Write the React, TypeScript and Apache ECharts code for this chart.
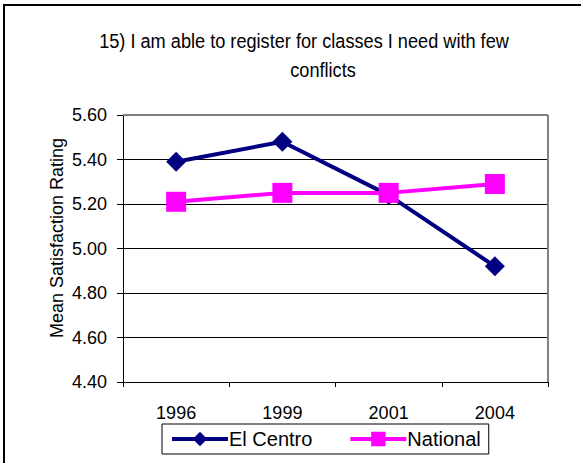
import React, { useEffect, useRef } from "react";
import * as echarts from "echarts";

const titleLine1 = "15) I am able to register for classes I need with few";
const titleLine2 = "conflicts";
const categories = ["1996", "1999", "2001", "2004"];
const elCentro = [5.39, 5.48, 5.24, 4.92];
const national = [5.21, 5.25, 5.25, 5.29];
const yAxisName = "Mean Satisfaction Rating";

const NARROW = "'Liberation Sans Narrow', 'Arial Narrow', 'Liberation Sans', Arial, sans-serif";
const REG = "'Liberation Sans', Arial, sans-serif";

export default function App() {
  const ref = useRef<HTMLDivElement>(null);
  useEffect(() => {
    document.body.style.margin = "0";
    const chart = echarts.init(ref.current!, null, { renderer: "svg" });
    chart.setOption({
      animation: false,
      backgroundColor: "#ffffff",
      graphic: [
        { type: "line", shape: { x1: 3, y1: 5, x2: 581, y2: 5 }, style: { stroke: "#000", lineWidth: 2 } },
        { type: "line", shape: { x1: 4, y1: 5, x2: 4, y2: 463 }, style: { stroke: "#000", lineWidth: 2 } },
        { type: "line", shape: { x1: 123, y1: 115, x2: 548, y2: 115 }, style: { stroke: "#808080", lineWidth: 2 }, z: 10 },
        { type: "line", shape: { x1: 548, y1: 115, x2: 548, y2: 382 }, style: { stroke: "#808080", lineWidth: 2 }, z: 10 },
        {
          type: "text",
          x: 304,
          y: 41,
          scaleX: 0.865,
          style: {
            text: titleLine1,
            fontFamily: NARROW,
            fontSize: 21,
            fill: "#000",
            textAlign: "center",
            textVerticalAlign: "middle",
          },
        },
        {
          type: "text",
          x: 323,
          y: 70,
          scaleX: 0.865,
          style: {
            text: titleLine2,
            fontFamily: NARROW,
            fontSize: 21,
            fill: "#000",
            textAlign: "center",
            textVerticalAlign: "middle",
          },
        },
        {
          type: "text",
          x: 57,
          y: 238,
          rotation: Math.PI / 2,
          style: {
            text: yAxisName,
            fontFamily: NARROW,
            fontSize: 18,
            fill: "#000",
            textAlign: "center",
            textVerticalAlign: "middle",
          },
        },
      ],
      legend: {
        left: 162,
        top: 424,
        width: 325,
        height: 32,
        padding: [5, 8, 5, 8],
        borderColor: "#000",
        borderWidth: 1,
        itemWidth: 56,
        itemHeight: 18,
        itemGap: 36,
        lineStyle: { width: 4 },
        textStyle: { fontFamily: REG, fontSize: 20, color: "#000", padding: [0, 0, 0, -4] },
        data: ["El Centro", "National"],
      },
      grid: { left: 123, right: 33, top: 115, bottom: 81, show: false },
      xAxis: {
        type: "category",
        data: categories,
        boundaryGap: true,
        axisLine: { show: true, lineStyle: { color: "#000", width: 1 } },
        axisTick: { show: true, length: 5, lineStyle: { color: "#000" } },
        axisLabel: { fontFamily: NARROW, fontSize: 18, color: "#000", margin: 22 },
      },
      yAxis: {
        type: "value",
        min: 4.4,
        max: 5.6,
        interval: 0.2,
        axisLine: { show: true, lineStyle: { color: "#000", width: 1 } },
        axisTick: { show: true, length: 6, lineStyle: { color: "#000" } },
        axisLabel: { fontFamily: NARROW, fontSize: 18, color: "#000", margin: 16, formatter: (v: number) => v.toFixed(2) },
        splitLine: { show: true, lineStyle: { color: "#000", width: 1 } },
      },
      series: [
        {
          name: "El Centro",
          type: "line",
          data: elCentro,
          symbol: "diamond",
          symbolSize: 20,
          lineStyle: { color: "#000080", width: 4 },
          itemStyle: { color: "#000080" },
        },
        {
          name: "National",
          type: "line",
          data: national,
          symbol: "rect",
          symbolSize: 20,
          lineStyle: { color: "#FF00FF", width: 4 },
          itemStyle: { color: "#FF00FF" },
        },
      ],
    });
    return () => chart.dispose();
  }, []);
  return <div ref={ref} style={{ width: 581, height: 463 }} />;
}
